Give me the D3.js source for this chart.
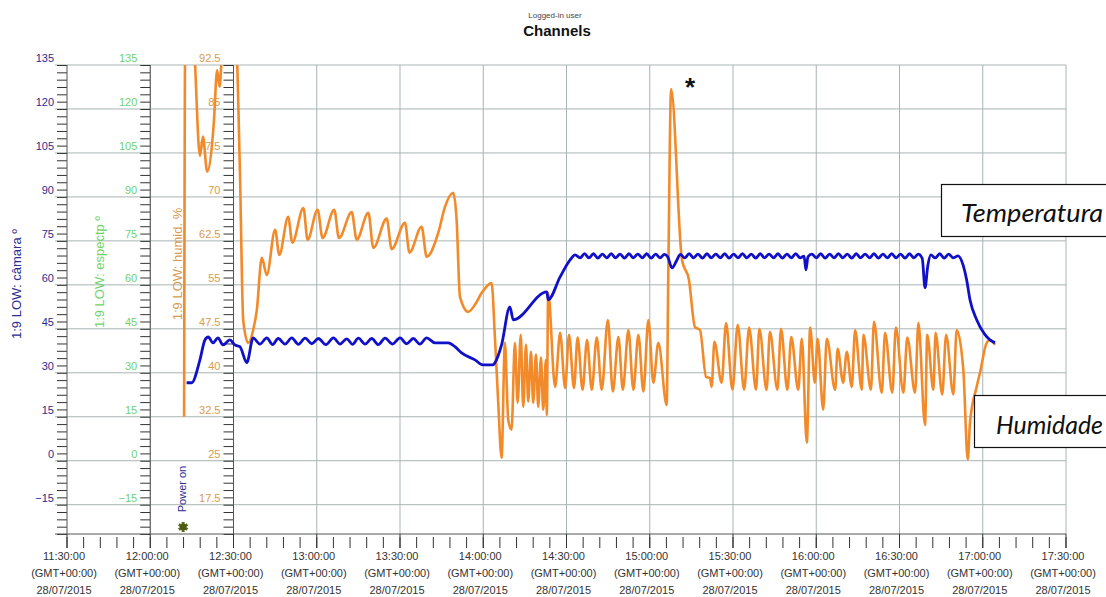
<!DOCTYPE html>
<html>
<head>
<meta charset="utf-8">
<script src="https://cdn.jsdelivr.net/npm/d3@7"></script>
<style>
  body { margin: 0; background: #fff; }
  svg { display: block; font-family: "Liberation Sans", Arial, sans-serif; }
</style>
</head>
<body>
<svg id="chart" width="1106" height="597"></svg>
<script>
// ---- data -------------------------------------------------------------
const axisStart = "2015-07-28T11:30:00Z";
const axisEnd   = "2015-07-28T17:30:00Z";
const zoneLabel = "(GMT+00:00)";
const dateLabel = "28/07/2015";

const tempTicks = [-15, 0, 15, 30, 45, 60, 75, 90, 105, 120, 135];
const specTicks = [-15, 0, 15, 30, 45, 60, 75, 90, 105, 120, 135];
const humTicks  = [17.5, 25, 32.5, 40, 47.5, 55, 62.5, 70, 77.5, 85, 92.5];

const tempTitle = "1:9 LOW: câmara º";
const specTitle = "1:9 LOW: espectp º";
const humTitle  = "1:9 LOW: humid. %";

// minutes after 11:30 and chamber temperature
const tempMin = [43.1, 44.9, 47.9, 49.7, 50.9, 52.6, 54.4, 56.2, 58.7, 60.5, 62.3, 64.8,
  67.1, 69.5, 72.0, 74.1, 76.1, 78.6, 81.0, 83.4, 85.8, 88.2, 90.6, 93.3, 96.0, 98.4,
  100.8, 102.9, 105.0, 107.4, 109.8, 112.2, 114.6, 117.3, 120.0, 122.4, 124.8, 127.2,
  129.6, 132.6, 137.4, 139.8, 142.2, 147.0, 149.9, 153.5, 154.2, 156.6, 159.6, 160.8,
  172.9, 173.4, 177.7, 181.3, 183.1,
  184.9, 186.5, 188.1, 189.7, 191.3, 192.9, 194.5, 196.1, 197.7, 199.3, 200.9, 202.5,
  204.1, 205.7, 207.3, 208.9, 210.5, 212.1, 213.7, 215.3, 216.5, 218.0, 219.8, 221.0,
  222.6, 224.2, 225.8, 227.4, 229.0, 230.6, 232.2, 233.8, 235.4, 237.0, 238.6, 240.2,
  241.8, 243.4, 245.0, 246.6, 248.2, 249.8, 251.4, 253.0, 254.6, 256.2, 257.8, 259.4,
  261.0, 262.6, 264.2, 265.6, 266.3, 267.0, 268.4, 270.0, 271.6, 273.2, 274.8, 276.4,
  278.0, 279.6, 281.2, 282.8, 284.4, 286.0, 287.6, 289.2, 290.8, 292.4, 294.0, 295.6,
  297.2, 298.8, 300.4, 302.0, 303.6, 305.2, 306.8, 308.2, 309.2, 310.2, 311.3, 312.9,
  314.5, 316.1, 317.7, 319.3,
  321.1, 322.9, 324.2, 325.4, 327.8, 330.8, 332.6, 334.4];
const tempVal = [26.6, 26.6, 34.4, 41.2, 42.2, 40.2, 41.9, 39.5, 41.2, 39.5, 38.9, 33.5,
  41.9, 39.8, 41.9, 39.6, 41.7, 39.8, 41.9, 39.7, 41.8, 39.9, 41.7, 39.6, 41.9, 39.8,
  41.6, 39.7, 41.8, 39.8, 41.7, 39.6, 41.8, 39.8, 41.9, 39.9, 41.7, 39.8,
  41.9, 40.2, 40.2, 38.9, 36.8, 34.4, 32.7, 32.7, 33.4, 39.5, 52.5, 48.1,
  57.6, 54.9, 62.7, 68.5, 70.2,
  69.2, 70.6, 69.2, 70.6, 69.1, 70.5, 69.2, 70.6, 69.2, 70.5, 69.1, 70.6,
  69.2, 70.5, 69.2, 70.6, 69.1, 70.5, 69.2, 70.4, 69.5, 65.8, 68.5, 70.4,
  69.2, 70.6, 69.2, 70.5, 69.1, 70.6, 69.2, 70.5, 69.2, 70.6, 69.1, 70.5,
  69.2, 70.6, 69.2, 70.5, 69.1, 70.6, 69.2, 70.5, 69.2, 70.6, 69.1, 70.5,
  69.2, 70.6, 69.2, 69.8, 65.1, 69.5, 70.5, 69.2, 70.6, 69.1, 70.5, 69.2,
  70.6, 69.2, 70.5, 69.1, 70.6, 69.2, 70.5, 69.2, 70.6, 69.1, 70.5, 69.2,
  70.6, 69.2, 70.5, 69.1, 70.6, 69.2, 70.5, 69.0, 59.0, 66.5, 70.2, 69.2,
  70.6, 69.1, 70.5, 69.2,
  69.9, 66.8, 61.7, 54.9, 48.1, 43.0, 41.2, 40.2];

// minutes after 11:30 and relative humidity
const humMin = [42.2, 42.6, 45.4, 47.9, 49.0, 50.5, 52.9, 54.1, 55.0, 55.9, 56.5, 60.8,
  62.3, 63.5, 65.3, 67.1, 68.4, 70.2, 72.0, 75.0, 76.5, 79.7, 81.2, 85.2, 86.7, 90.3,
  92.1, 96.3, 98.0, 102.6, 104.4, 108.6, 110.4, 115.2, 117.0, 121.8, 123.4, 127.8,
  129.6, 133.8, 136.2, 139.2, 140.4, 141.6, 144.6, 147.0, 149.4, 153.0, 154.2, 155.4,
  156.6, 157.8, 159.0, 160.2, 161.4, 162.4, 163.5, 164.4, 165.4, 166.2, 167.2, 168.0,
  169.0, 169.8, 170.8, 171.6, 172.6, 172.9, 173.4, 175.9, 177.7, 179.5, 180.9, 182.7,
  184.0, 185.8, 187.4, 189.1, 190.9, 192.7, 194.9, 196.7, 198.7, 200.3, 202.3, 204.1,
  205.9, 207.7, 209.5, 211.3, 213.1, 216.1, 216.7, 217.7, 221.6, 224.1, 226.3, 228.1,
  230.3, 231.7, 232.3, 233.3, 235.9, 237.5, 239.8, 241.7, 244.0, 245.8, 248.3, 249.5,
  252.1, 253.3, 256.0, 257.3, 259.6, 261.0, 263.5, 264.8, 266.6, 267.8, 269.5, 270.5,
  272.5, 273.8, 276.8, 277.7, 279.7, 281.0, 282.8, 284.0, 286.4, 287.0, 289.7, 290.8,
  293.6, 294.8, 297.4, 298.7, 301.4, 302.8, 305.6, 306.8, 309.2, 310.0, 312.2, 313.0,
  315.4, 316.8, 319.4, 320.6, 323.0, 324.6, 325.4, 327.8, 329.0, 331.4, 332.6, 334.4];
const humVal = [32.5, 97, 97, 77.0, 80.3, 74.3, 82.6, 91.6, 88.8, 95, 97, 97,
  74.6, 49.0, 45.1, 47.3, 50.7, 59.6, 56.7, 64.4, 60.1, 66.6, 62.2, 68.1, 62.7, 67.8,
  63.0, 67.8, 63.0, 67.4, 62.7, 67.3, 61.3, 66.3, 61.1, 65.6, 60.5, 64.9,
  59.8, 63.9, 68.3, 70.7, 66.1, 53.0, 50.4, 51.6, 53.6, 55.3, 46.1, 34.9,
  25.5, 45.1, 32.0, 30.3, 45.1, 34.9, 46.5, 34.2, 44.8, 35.1, 43.6, 34.9,
  43.1, 34.2, 42.6, 33.7, 42.2, 32.8, 53.6, 37.6, 46.8, 37.4, 46.5, 37.4,
  46.0, 37.1, 45.6, 37.1, 46.0, 37.1, 49.0, 36.8, 46.1, 37.1, 47.3, 37.1,
  46.5, 36.8, 49.0, 38.3, 45.1, 34.5, 57.6, 88.4, 59.3, 55.9, 47.8, 47.3,
  39.3, 39.1, 37.6, 45.3, 38.3, 48.5, 37.1, 48.2, 37.1, 47.7, 37.1, 47.5,
  37.1, 47.0, 37.1, 47.5, 37.1, 46.1, 37.1, 45.8, 28.1, 47.7, 38.3, 45.8,
  33.7, 45.8, 37.1, 44.1, 38.3, 43.6, 37.6, 47.3, 37.1, 46.5, 37.1, 48.7,
  36.6, 46.8, 36.6, 47.7, 36.6, 46.0, 36.6, 48.5, 31.1, 46.5, 37.1, 46.8,
  36.3, 46.5, 36.3, 47.3, 40.5, 25.2, 31.5, 37.6, 40.0, 45.1, 45.6, 44.8];

const powerOnMin = 42.2;
const peakNote = "*";
const boxLabels = ["Temperatura", "Humidade"];

// ---- layout -----------------------------------------------------------
const svg = d3.select("#chart");
const plot = { left: 67, right: 1066, top: 65, bottom: 534 };
const t0 = new Date(axisStart);
const atMin = m => new Date(t0.getTime() + m * 60000);

const x = d3.scaleUtc().domain([t0, new Date(axisEnd)]).range([plot.left, plot.right]);
const yTemp = d3.scaleLinear().domain([-25, 135]).range([plot.bottom, plot.top]);
const ySpec = d3.scaleLinear().domain([-25, 135]).range([plot.bottom, plot.top]);
const yHum  = d3.scaleLinear().domain([12.5, 92.5]).range([plot.bottom, plot.top]);

const gridColor = "#a9b3b3";
const axisColor = "#555";
const blue = "#1010c8", green = "#6fd36a", orange = "#f28a2a", tan = "#d99a4e";

// title
svg.append("text").attr("x", 555).attr("y", 18).attr("text-anchor", "middle")
  .attr("font-size", 8).attr("fill", "#444").text("Logged-in user");
svg.append("text").attr("x", 557).attr("y", 36).attr("text-anchor", "middle")
  .attr("font-size", 15).attr("font-weight", "bold").attr("fill", "#111").text("Channels");

// horizontal grid lines
svg.append("g").selectAll("line").data(tempTicks).join("line")
  .attr("x1", 55).attr("x2", plot.right)
  .attr("y1", d => yTemp(d)).attr("y2", d => yTemp(d))
  .attr("stroke", gridColor).attr("stroke-width", 1);

// vertical grid lines every 30 minutes
const halfHours = d3.utcMinute.every(30).range(t0, new Date(new Date(axisEnd).getTime() + 1));
svg.append("g").selectAll("line").data(halfHours.filter(d => d > t0)).join("line")
  .attr("x1", d => x(d)).attr("x2", d => x(d))
  .attr("y1", plot.top).attr("y2", plot.bottom)
  .attr("stroke", gridColor).attr("stroke-width", 1);

// stacked value axes: chamber at 11:30, spectrometer at 12:00, humidity at 12:30
function valueAxis(xPos, scale, ticks, minorStep, color, title, titleX, titleY) {
  const g = svg.append("g").attr("transform", `translate(${xPos},0)`);
  const lo = scale.domain()[0], hi = scale.domain()[1];
  const minors = d3.range(lo, hi + minorStep / 2, minorStep);
  g.call(d3.axisLeft(scale).tickValues(minors).tickSize(10).tickFormat(""))
    .call(s => s.select(".domain").remove())
    .call(s => s.selectAll("line").attr("stroke", "#333"));
  g.append("line").attr("y1", plot.top).attr("y2", plot.bottom)
    .attr("stroke", axisColor).attr("stroke-width", 1);
  g.selectAll("text.lab").data(ticks).join("text").attr("class", "lab")
    .attr("x", -13).attr("y", d => scale(d) - 3)
    .attr("text-anchor", "end").attr("font-size", 11).attr("fill", color)
    .text(d => d3.format("~g")(d));
  svg.append("text")
    .attr("transform", `translate(${titleX},${titleY}) rotate(-90)`)
    .attr("text-anchor", "middle").attr("font-size", 13).attr("fill", color)
    .text(title);
}
valueAxis(x(t0), yTemp, tempTicks, 2.5, "#2c2c90", tempTitle, 21, 284);
valueAxis(x(atMin(30)), ySpec, specTicks, 2.5, green, specTitle, 104, 272);
valueAxis(x(atMin(60)), yHum, humTicks, 1.25, tan, humTitle, 182, 264);

// time axis
const ax = svg.append("g").attr("transform", `translate(0,${plot.bottom})`);
ax.append("line").attr("x1", 55).attr("x2", plot.right).attr("stroke", axisColor);
const minorTimes = d3.utcMinute.every(6).range(t0, new Date(new Date(axisEnd).getTime() + 1));
ax.selectAll("line.minor").data(minorTimes).join("line").attr("class", "minor")
  .attr("x1", d => x(d)).attr("x2", d => x(d)).attr("y1", 3).attr("y2", 14)
  .attr("stroke", "#333");
ax.selectAll("line.major").data(halfHours).join("line").attr("class", "major")
  .attr("x1", d => x(d)).attr("x2", d => x(d)).attr("y1", 0).attr("y2", 14)
  .attr("stroke", "#333");
const fmt = d3.utcFormat("%H:%M:%S");
const lbl = ax.selectAll("g.lbl").data(halfHours).join("g").attr("class", "lbl")
  .attr("transform", d => `translate(${x(d) - 3},0)`);
[[fmt, 26], [() => zoneLabel, 43], [() => dateLabel, 60]].forEach(([f, dy]) => {
  lbl.append("text").attr("y", dy).attr("text-anchor", "middle")
    .attr("font-size", 11).attr("fill", "#333").text(f);
});

// series
svg.append("defs").append("clipPath").attr("id", "plotClip").append("rect")
  .attr("x", plot.left).attr("y", plot.top)
  .attr("width", plot.right - plot.left).attr("height", plot.bottom - plot.top);

const humLine = d3.line().curve(d3.curveMonotoneX)
  .x((d, i) => x(atMin(humMin[i]))).y(d => yHum(d));
svg.append("path").datum(humVal).attr("d", humLine).attr("clip-path", "url(#plotClip)")
  .attr("fill", "none").attr("stroke", orange).attr("stroke-width", 2.6)
  .attr("stroke-linejoin", "round");

const tempLine = d3.line().curve(d3.curveMonotoneX)
  .x((d, i) => x(atMin(tempMin[i]))).y(d => yTemp(d));
svg.append("path").datum(tempVal).attr("d", tempLine).attr("clip-path", "url(#plotClip)")
  .attr("fill", "none").attr("stroke", blue).attr("stroke-width", 2.8)
  .attr("stroke-linejoin", "round");

// power-on event marker
const px = x(atMin(powerOnMin));
svg.append("text").attr("transform", `translate(${px + 2},${489}) rotate(-90)`)
  .attr("text-anchor", "middle").attr("font-size", 11).attr("fill", "#2c2c90").text("Power on");
const gear = svg.append("g").attr("transform", `translate(${px - 1},${527})`);
gear.append("path").attr("d", d3.symbol(d3.symbolAsterisk, 70)())
  .attr("stroke", "#5a6a1a").attr("stroke-width", 3);
gear.append("circle").attr("r", 3.2).attr("fill", "#4d5a16");

// peak note
svg.append("text").attr("x", 690).attr("y", 96).attr("text-anchor", "middle")
  .attr("font-size", 26).attr("font-weight", "bold").attr("fill", "#111").text(peakNote);

// callout boxes running off the right edge
const boxes = [
  { text: boxLabels[0], x: 941, y: 184, h: 52, tx: 961, ty: 222, w: 142 },
  { text: boxLabels[1], x: 974, y: 395, h: 52, tx: 996, ty: 434, w: 107 }
];
boxes.forEach(b => {
  svg.append("rect").attr("x", b.x + 0.5).attr("y", b.y + 0.5)
    .attr("width", 1106 - b.x + 10).attr("height", b.h)
    .attr("fill", "#fff").attr("stroke", "#111").attr("stroke-width", 1.2);
  svg.append("text").attr("x", b.tx).attr("y", b.ty)
    .attr("font-size", 25).attr("font-style", "italic").attr("fill", "#111")
    .attr("textLength", b.w).attr("lengthAdjust", "spacingAndGlyphs")
    .attr("font-family", "Lato, 'Open Sans', sans-serif").text(b.text);
});
</script>
</body>
</html>
